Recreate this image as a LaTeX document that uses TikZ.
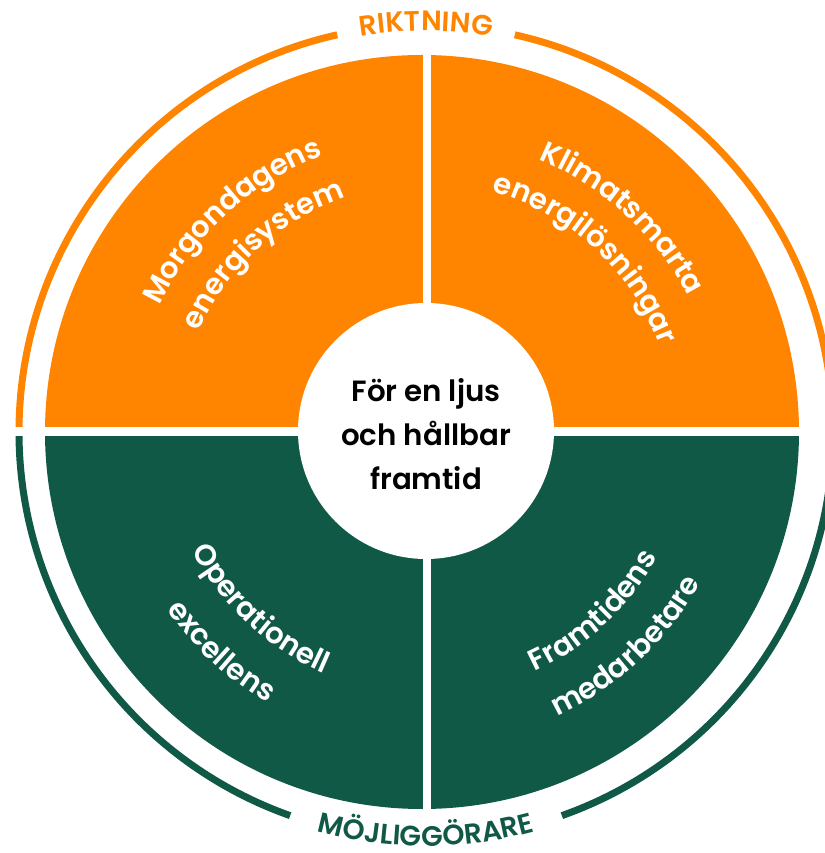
\documentclass[tikz,border=0pt]{standalone}
\usepackage{fontspec}
\setmainfont{Poppins}[BoldFont={Poppins SemiBold}]
\usetikzlibrary{decorations.text}

\definecolor{riktning}{RGB}{255,132,0}
\definecolor{mojlig}{RGB}{16,89,71}

\newcommand{\corefont}{\bfseries\fontsize{25}{37.5}\selectfont}
\newcommand{\quadfont}{\bfseries\fontsize{25}{30}\selectfont}
\newcommand{\ringfont}{\bfseries\fontsize{24}{28}\selectfont}

\tikzset{
  ringarc/.style={line width=0.21cm},
  quadtext/.style={decorate, decoration={text along path, text align=center,
      text={|\quadfont\color{white}|#1}}},
  ringtext/.style 2 args={decorate, decoration={text along path, text align=center,
      text={|\ringfont\color{#1}|#2}}},
}

\begin{document}
\begin{tikzpicture}[x=0.03cm, y=0.03cm]
    \useasboundingbox (-426,-421) rectangle (398,432);
    \coordinate (c) at (0,0);
    \coordinate (d) at (-4,0);

    % quadrants
    \fill[riktning] (d) ++(0:377) arc[start angle=0, end angle=180, radius=377] -- cycle;
    \fill[mojlig] (d) ++(180:377) arc[start angle=180, end angle=360, radius=377] -- cycle;

    % outer ring
    \draw[ringarc, riktning] (0:407) arc[start angle=0, end angle=77.4, radius=407];
    \draw[ringarc, riktning] (102.6:407) arc[start angle=102.6, end angle=180, radius=407];
    \draw[ringarc, mojlig] (180:407) arc[start angle=180, end angle=250.5, radius=407];
    \draw[ringarc, mojlig] (289.5:407) arc[start angle=289.5, end angle=360, radius=407];

    % gaps and hub
    \fill[white] (-426,-4.5) rectangle (398,4.5);
    \fill[white] (-3.3,-380) rectangle (4.7,380);
    \fill[white] (0,1) circle[radius=128];
    \node[align=center, font=\corefont] (core) at (0,-2) {För en ljus\\och hållbar\\framtid};

    % quadrant labels
    \path[quadtext=Morgondagens] (177.5:295) arc[start angle=177.5, end angle=87.5, radius=295];
    \path[quadtext=energisystem] (177.5:248) arc[start angle=177.5, end angle=87.5, radius=248];
    \path[quadtext=Klimatsmarta] (92.5:295) arc[start angle=92.5, end angle=2.5, radius=295];
    \path[quadtext=energilösningar] (92.5:249) arc[start angle=92.5, end angle=2.5, radius=249];
    \path[quadtext=Operationell] (182:262) arc[start angle=182, end angle=272, radius=262];
    \path[quadtext=excellens] (182:314) arc[start angle=182, end angle=272, radius=314];
    \path[quadtext=Framtidens] (268:263) arc[start angle=268, end angle=358, radius=263];
    \path[quadtext=medarbetare] (268:313) arc[start angle=268, end angle=358, radius=313];

    % ring labels
    \path[ringtext={riktning}{RIKTNING}] (135:401) arc[start angle=135, end angle=45, radius=401];
    \path[ringtext={mojlig}{MÖJLIGGÖRARE}] (225:414) arc[start angle=225, end angle=315, radius=414];
\end{tikzpicture}
\end{document}
